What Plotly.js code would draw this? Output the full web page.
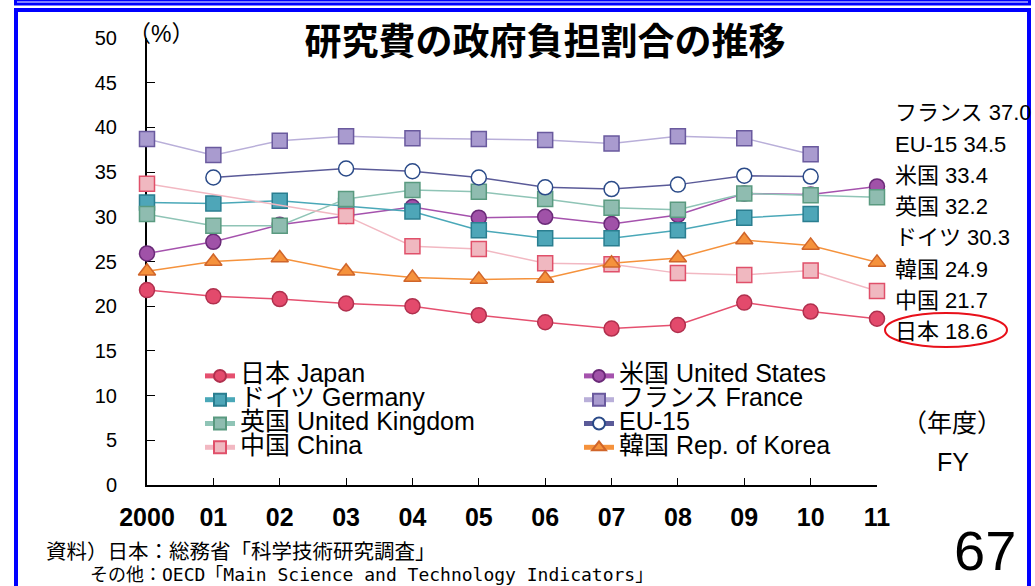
<!DOCTYPE html>
<html><head><meta charset="utf-8">
<script src="https://cdn.plot.ly/plotly-3.0.1.min.js"></script>
<style>html,body{margin:0;padding:0;background:#fff;overflow:hidden}#chart{width:1035px;height:586px}</style>
</head><body><div id="chart"></div>
<script>
// ---- data ----
const years = ['2000','01','02','03','04','05','06','07','08','09','10','11'];
const japan   = [21.8, 21.1, 20.8, 20.3, 20.0, 19.0, 18.2, 17.5, 17.9, 20.4, 19.4, 18.6];
const usa     = [25.9, 27.2, 29.1, 30.1, 31.1, 29.9, 30.0, 29.2, 30.2, 32.6, 32.5, 33.4];
const germany = [31.6, 31.5, 31.8, 31.2, 30.6, 28.5, 27.6, 27.6, 28.5, 29.9, 30.3, null];
const france  = [38.7, 36.9, 38.5, 39.0, 38.8, 38.7, 38.6, 38.2, 39.0, 38.8, 37.0, null];
const uk      = [30.3, 29.0, 29.0, 32.0, 33.0, 32.8, 32.0, 31.0, 30.8, 32.6, 32.4, 32.2];
const eu15    = [null, 34.4, null, 35.4, 35.1, 34.4, 33.3, 33.1, 33.6, 34.6, 34.5, null];
const china   = [33.7, null, null, 30.1, 26.7, 26.4, 24.8, 24.7, 23.7, 23.5, 24.0, 21.7];
const korea   = [23.9, 25.0, 25.4, 23.9, 23.2, 23.0, 23.1, 24.8, 25.4, 27.4, 26.8, 24.9];

const legendNames = ['日本 Japan','米国 United States','ドイツ Germany','フランス France',
                     '英国 United Kingdom','EU-15','中国 China','韓国 Rep. of Korea'];
const sideNames  = ['フランス','EU-15','米国','英国','ドイツ','韓国','中国','日本'];
const sideValues = ['37.0','34.5','33.4','32.2','30.3','24.9','21.7','18.6'];
const yTicks = [0,5,10,15,20,25,30,35,40,45,50];

// ---- layout helpers (pixel -> paper) ----
const L = 147, R = 877, T = 38, B = 485;
const px = x => (x - L) / (R - L);
const py = y => (B - y) / (B - T);
const SANS = 'Liberation Sans, Noto Sans CJK JP, sans-serif';
const JP = 'Noto Sans CJK JP, sans-serif';

function series(idx, y, line, fill, border, symbol, legend) {
  return {
    type: 'scatter', mode: 'lines+markers', x: years, y: y,
    name: '<span style="font-size:25px">' + legendNames[idx] + '</span>',
    legend: legend, connectgaps: true, cliponaxis: false,
    line: {color: line, width: 1.5},
    marker: {symbol: symbol, size: 15, color: fill, line: {color: border, width: 1.5}},
    hoverinfo: 'x+y'
  };
}

const data = [
  series(0, japan,   '#e5506f', '#e34a6c', '#b0304e', 'circle', 'legend'),
  series(1, usa,     '#a552ad', '#a052a8', '#6a2a78', 'circle', 'legend2'),
  series(2, germany, '#4aa8b8', '#4ea6b8', '#2a7e90', 'square', 'legend'),
  series(3, france,  '#b9afd9', '#a99bcf', '#6a5a9e', 'square', 'legend2'),
  series(4, uk,      '#8fc4b6', '#8fbcb0', '#5a9a80', 'square', 'legend'),
  series(5, eu15,    '#5a5a98', '#ffffff', '#2a4a88', 'circle', 'legend2'),
  series(6, china,   '#f2b8c2', '#f0b8c0', '#e0506a', 'square', 'legend'),
  series(7, korea,   '#f5923c', '#f5923c', '#d0652a', 'triangle-up', 'legend2')
];

const annotations = [];
sideNames.forEach((n, i) => {
  annotations.push({xref:'paper', yref:'paper', x: px(893), y: py(113 + i*31.2),
    xanchor:'left', yanchor:'middle', showarrow:false, text: n + ' ' + sideValues[i],
    font:{family:SANS, size:22, color:'#000'}});
});
annotations.push({xref:'paper', yref:'paper', x: px(161), y: py(34), xanchor:'center', yanchor:'middle',
  showarrow:false, text:'（%）', font:{family:SANS, size:23, color:'#000'}});
annotations.push({xref:'paper', yref:'paper', x: px(952), y: py(423), xanchor:'center', yanchor:'middle',
  showarrow:false, text:'（年度）', font:{family:SANS, size:25, color:'#000'}});
annotations.push({xref:'paper', yref:'paper', x: px(953), y: py(462), xanchor:'center', yanchor:'middle',
  showarrow:false, text:'FY', font:{family:SANS, size:25, color:'#000'}});
annotations.push({xref:'paper', yref:'paper', x: px(985), y: py(550), xanchor:'center', yanchor:'middle',
  showarrow:false, text:'67', font:{family:'Liberation Sans', size:56, color:'#000'}});
annotations.push({xref:'paper', yref:'paper', x: px(44), y: py(550), xanchor:'left', yanchor:'middle',
  showarrow:false, text:'資料）日本：総務省「科学技術研究調査」', font:{family:JP, size:20.5, color:'#000'}});
annotations.push({xref:'paper', yref:'paper', x: px(88), y: py(574), xanchor:'left', yanchor:'middle',
  showarrow:false, text:'その他：OECD「Main Science and Technology Indicators」',
  font:{family:'DejaVu Sans Mono, Noto Sans CJK JP, monospace', size:18, color:'#000'}});

const shapes = [
  {type:'rect', xref:'paper', yref:'paper', x0:px(14), x1:px(1031), y0:py(0), y1:py(5.5),
   fillcolor:'#0000ff', line:{width:0}, layer:'above'},
  {type:'line', xref:'paper', yref:'paper', x0:px(17), x1:px(1028), y0:py(2), y1:py(2),
   line:{color:'#ffffff', width:1}, layer:'above'},
  {type:'rect', xref:'paper', yref:'paper', x0:px(16), x1:px(1029), y0:py(10), y1:py(640),
   line:{color:'#0000ff', width:4}, layer:'above'},
  {type:'circle', xref:'paper', yref:'paper', x0:px(885), x1:px(1007), y0:py(313), y1:py(347),
   line:{color:'#e8101a', width:2}, layer:'above'}
];

const layout = {
  width: 1035, height: 586,
  margin: {l: L, r: 1035 - R, t: T, b: 586 - B, pad: 0},
  paper_bgcolor: '#ffffff', plot_bgcolor: '#ffffff',
  title: {text: '研究費の政府負担割合の推移', xref:'container', yref:'container',
          x: 545/1035, y: 1 - 42/586, xanchor:'center', yanchor:'middle',
          font: {family: JP, size: 37, weight: 'bold', color: '#000'}},
  xaxis: {type:'category', range:[0, 11], showgrid:false, zeroline:false,
          showline:true, linecolor:'#000', linewidth:2, mirror:false,
          ticks:'inside', ticklen:7, tickwidth:1, tickcolor:'#000',
          ticklabelstandoff: 9, layer:'below traces',
          tickfont:{family:'Liberation Sans', size:25, weight:'bold', color:'#000'}},
  yaxis: {range:[0, 50], tickvals: yTicks, showgrid:false, zeroline:false,
          showline:true, linecolor:'#000', linewidth:2,
          ticks:'inside', ticklen:8, tickwidth:1, tickcolor:'#000',
          ticklabelstandoff: 24, layer:'below traces',
          tickfont:{family:SANS, size:20, color:'#000'}},
  showlegend: true,
  legend: {x: px(200), y: py(359), xanchor:'left', yanchor:'top', orientation:'v',
           bgcolor:'rgba(0,0,0,0)', borderwidth:0, itemsizing:'constant',
           font:{family:SANS, size:16, color:'#000'}, traceorder:'normal'},
  legend2: {x: px(579), y: py(359), xanchor:'left', yanchor:'top', orientation:'v',
           bgcolor:'rgba(0,0,0,0)', borderwidth:0, itemsizing:'constant',
           font:{family:SANS, size:16, color:'#000'}, traceorder:'normal'},
  annotations: annotations,
  shapes: shapes
};

Plotly.newPlot('chart', data, layout, {displayModeBar:false, staticPlot:true});
</script>
</body></html>
